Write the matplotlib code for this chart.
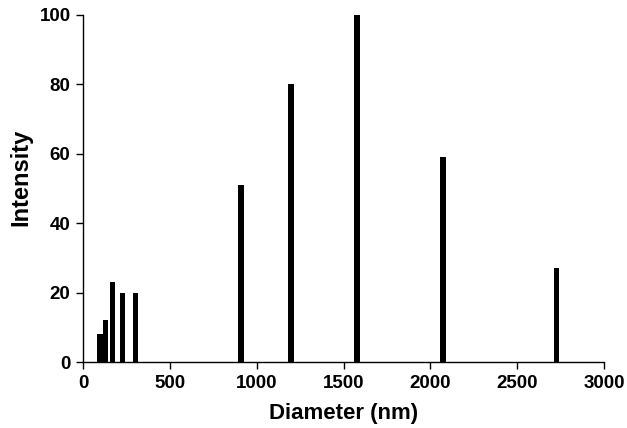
import matplotlib
matplotlib.use('Agg')
import matplotlib.pyplot as plt

# DLS size distribution
diameter = [97, 129, 170, 227, 302, 911, 1198, 1578, 2073, 2725]
intensity = [8, 12, 23, 20, 20, 51, 80, 100, 59, 27]
xticks = [0, 500, 1000, 1500, 2000, 2500, 3000]
yticks = [0, 20, 40, 60, 80, 100]

plt.rcParams['font.family'] = ['Liberation Sans', 'DejaVu Sans']
plt.rcParams['font.weight'] = 'bold'

fig = plt.figure(figsize=(6.27, 4.28), dpi=100)
ax = fig.add_axes([0.1324, 0.1542, 0.831, 0.8108])
ax.bar(diameter, intensity, width=32, color='black', align='center')

ax.set_xlim(0, 3000)
ax.set_ylim(0, 100)
ax.set_xticks(xticks)
ax.set_yticks(yticks)
for s in ['top', 'right']:
    ax.spines[s].set_visible(False)
for s in ['left', 'bottom']:
    ax.spines[s].set_linewidth(1.0)
ax.tick_params(direction='out', length=5, width=1, labelsize=13.5, pad=4)
for lab in ax.get_xticklabels() + ax.get_yticklabels():
    lab.set_fontweight('bold')
ax.set_xlabel('Diameter (nm)', fontsize=16, fontweight='bold', labelpad=8)
ax.set_ylabel('Intensity', fontsize=17, fontweight='bold', labelpad=6)
ax.yaxis.set_label_coords(-0.098, 0.533)

fig.savefig('out.png', dpi=100)
